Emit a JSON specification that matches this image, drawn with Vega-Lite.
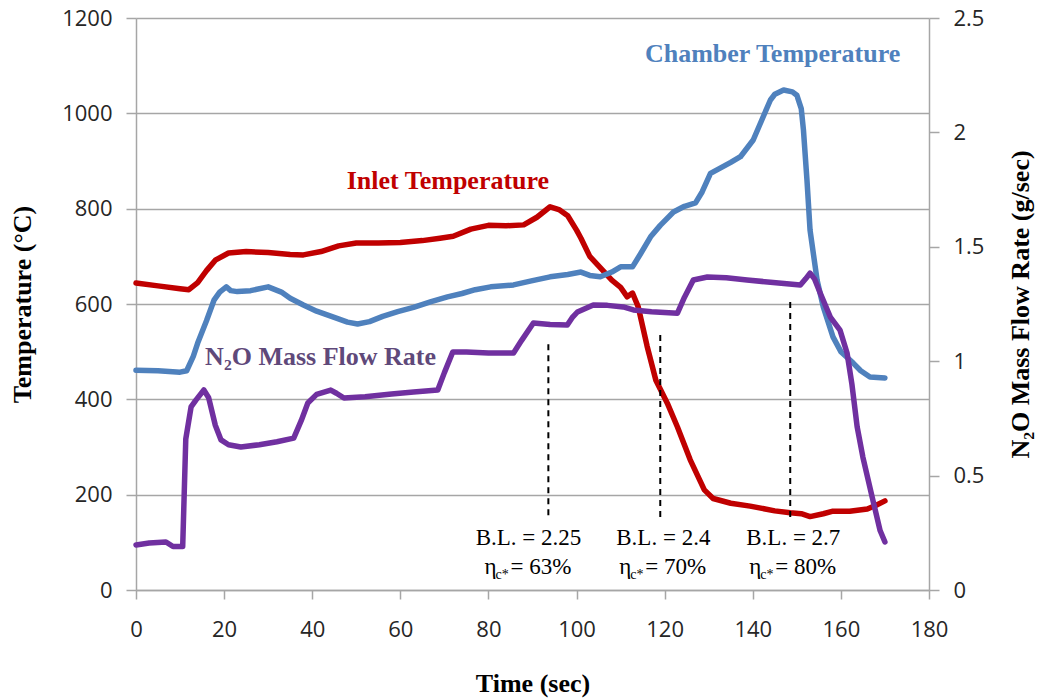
{
  "$schema": "https://vega.github.io/schema/vega-lite/v6.json",
  "width": 793,
  "height": 572,
  "autosize": {"type": "none"},
  "padding": {"left": 136, "top": 18, "right": 110, "bottom": 110},
  "background": "white",
  "config": {
    "view": {"stroke": null},
    "axis": {
      "labelFont": "Open Sans",
      "labelFontSize": 22,
      "labelColor": "#262626",
      "labelFlush": false,
      "domainColor": "#A6A6A6",
      "domainWidth": 1.5,
      "tickColor": "#A6A6A6",
      "tickWidth": 1.5,
      "tickSize": 9,
      "gridColor": "#A6A6A6",
      "gridWidth": 1.5,
      "titleFont": "Liberation Serif",
      "titleFontSize": 26,
      "titleFontWeight": "bold",
      "titleColor": "black"
    }
  },
  "datasets": {
    "temps": [
      {"s": "Inlet", "t": 0, "T": 644}, {"s": "Inlet", "t": 5, "T": 638}, {"s": "Inlet", "t": 10, "T": 632}, {"s": "Inlet", "t": 12, "T": 630},
      {"s": "Inlet", "t": 14, "T": 645}, {"s": "Inlet", "t": 16, "T": 670}, {"s": "Inlet", "t": 18, "T": 692}, {"s": "Inlet", "t": 21, "T": 707},
      {"s": "Inlet", "t": 25, "T": 710}, {"s": "Inlet", "t": 30, "T": 708}, {"s": "Inlet", "t": 35, "T": 704}, {"s": "Inlet", "t": 38, "T": 703},
      {"s": "Inlet", "t": 42, "T": 710}, {"s": "Inlet", "t": 46, "T": 722}, {"s": "Inlet", "t": 50, "T": 728}, {"s": "Inlet", "t": 55, "T": 728},
      {"s": "Inlet", "t": 60, "T": 729}, {"s": "Inlet", "t": 65, "T": 733}, {"s": "Inlet", "t": 69, "T": 738}, {"s": "Inlet", "t": 72, "T": 742},
      {"s": "Inlet", "t": 76, "T": 757}, {"s": "Inlet", "t": 80, "T": 765}, {"s": "Inlet", "t": 84, "T": 764}, {"s": "Inlet", "t": 88, "T": 766},
      {"s": "Inlet", "t": 91, "T": 782}, {"s": "Inlet", "t": 94, "T": 804}, {"s": "Inlet", "t": 96, "T": 798}, {"s": "Inlet", "t": 98, "T": 785},
      {"s": "Inlet", "t": 100, "T": 755}, {"s": "Inlet", "t": 101, "T": 738}, {"s": "Inlet", "t": 103, "T": 700}, {"s": "Inlet", "t": 105, "T": 680},
      {"s": "Inlet", "t": 108, "T": 650}, {"s": "Inlet", "t": 110, "T": 635}, {"s": "Inlet", "t": 111.5, "T": 615}, {"s": "Inlet", "t": 112.7, "T": 623},
      {"s": "Inlet", "t": 114, "T": 594}, {"s": "Inlet", "t": 116, "T": 512}, {"s": "Inlet", "t": 118, "T": 440}, {"s": "Inlet", "t": 120.6, "T": 392},
      {"s": "Inlet", "t": 122.9, "T": 342}, {"s": "Inlet", "t": 125.8, "T": 273}, {"s": "Inlet", "t": 129, "T": 210}, {"s": "Inlet", "t": 131, "T": 192},
      {"s": "Inlet", "t": 135, "T": 182}, {"s": "Inlet", "t": 139.4, "T": 176}, {"s": "Inlet", "t": 145, "T": 166}, {"s": "Inlet", "t": 148.5, "T": 162},
      {"s": "Inlet", "t": 151, "T": 160}, {"s": "Inlet", "t": 153, "T": 154}, {"s": "Inlet", "t": 156, "T": 160}, {"s": "Inlet", "t": 158, "T": 165},
      {"s": "Inlet", "t": 162, "T": 165}, {"s": "Inlet", "t": 166, "T": 170}, {"s": "Inlet", "t": 168, "T": 178}, {"s": "Inlet", "t": 170, "T": 187},
      {"s": "Chamber", "t": 0, "T": 461}, {"s": "Chamber", "t": 5, "T": 460}, {"s": "Chamber", "t": 10, "T": 457}, {"s": "Chamber", "t": 11.5, "T": 460},
      {"s": "Chamber", "t": 13, "T": 490}, {"s": "Chamber", "t": 14, "T": 518}, {"s": "Chamber", "t": 16, "T": 565}, {"s": "Chamber", "t": 17.7, "T": 608},
      {"s": "Chamber", "t": 19, "T": 625}, {"s": "Chamber", "t": 20.5, "T": 636}, {"s": "Chamber", "t": 21.5, "T": 628}, {"s": "Chamber", "t": 23, "T": 626},
      {"s": "Chamber", "t": 26, "T": 628}, {"s": "Chamber", "t": 30, "T": 636}, {"s": "Chamber", "t": 33, "T": 625}, {"s": "Chamber", "t": 35, "T": 612},
      {"s": "Chamber", "t": 38, "T": 598}, {"s": "Chamber", "t": 41, "T": 585}, {"s": "Chamber", "t": 45, "T": 572}, {"s": "Chamber", "t": 48, "T": 562},
      {"s": "Chamber", "t": 50.3, "T": 558}, {"s": "Chamber", "t": 53, "T": 563}, {"s": "Chamber", "t": 56, "T": 574}, {"s": "Chamber", "t": 59.4, "T": 584},
      {"s": "Chamber", "t": 63, "T": 593}, {"s": "Chamber", "t": 67, "T": 605}, {"s": "Chamber", "t": 70.7, "T": 615}, {"s": "Chamber", "t": 74, "T": 622},
      {"s": "Chamber", "t": 77, "T": 630}, {"s": "Chamber", "t": 80.5, "T": 636}, {"s": "Chamber", "t": 85.7, "T": 640}, {"s": "Chamber", "t": 90, "T": 649},
      {"s": "Chamber", "t": 94, "T": 657}, {"s": "Chamber", "t": 98, "T": 662}, {"s": "Chamber", "t": 101, "T": 667}, {"s": "Chamber", "t": 103, "T": 660},
      {"s": "Chamber", "t": 105.4, "T": 657}, {"s": "Chamber", "t": 108, "T": 667}, {"s": "Chamber", "t": 110, "T": 678}, {"s": "Chamber", "t": 112.7, "T": 678},
      {"s": "Chamber", "t": 114.5, "T": 705}, {"s": "Chamber", "t": 116.8, "T": 741}, {"s": "Chamber", "t": 119, "T": 765}, {"s": "Chamber", "t": 122, "T": 793},
      {"s": "Chamber", "t": 124.5, "T": 805}, {"s": "Chamber", "t": 127, "T": 812}, {"s": "Chamber", "t": 128.5, "T": 835}, {"s": "Chamber", "t": 130.4, "T": 874},
      {"s": "Chamber", "t": 132.6, "T": 885}, {"s": "Chamber", "t": 135, "T": 897}, {"s": "Chamber", "t": 137.2, "T": 909}, {"s": "Chamber", "t": 140.1, "T": 944},
      {"s": "Chamber", "t": 142, "T": 985}, {"s": "Chamber", "t": 144, "T": 1028}, {"s": "Chamber", "t": 145, "T": 1040}, {"s": "Chamber", "t": 147, "T": 1049},
      {"s": "Chamber", "t": 149, "T": 1045}, {"s": "Chamber", "t": 150, "T": 1038}, {"s": "Chamber", "t": 151, "T": 1010}, {"s": "Chamber", "t": 151.5, "T": 965},
      {"s": "Chamber", "t": 152.3, "T": 860}, {"s": "Chamber", "t": 153, "T": 755}, {"s": "Chamber", "t": 154.6, "T": 650}, {"s": "Chamber", "t": 156, "T": 594},
      {"s": "Chamber", "t": 158.2, "T": 531}, {"s": "Chamber", "t": 160, "T": 500}, {"s": "Chamber", "t": 162.8, "T": 476}, {"s": "Chamber", "t": 164.5, "T": 460},
      {"s": "Chamber", "t": 166.6, "T": 447}, {"s": "Chamber", "t": 170, "T": 445}
    ],
    "flow": [
      {"t": 0, "F": 0.197}, {"t": 3, "F": 0.205}, {"t": 6.8, "F": 0.21}, {"t": 8.4, "F": 0.19}, {"t": 10.6, "F": 0.19},
      {"t": 11.3, "F": 0.66}, {"t": 12.5, "F": 0.8}, {"t": 13.6, "F": 0.83}, {"t": 15.4, "F": 0.874}, {"t": 16.5, "F": 0.84},
      {"t": 18, "F": 0.72}, {"t": 19.3, "F": 0.656}, {"t": 21, "F": 0.635}, {"t": 23.8, "F": 0.625}, {"t": 28, "F": 0.635},
      {"t": 32, "F": 0.648}, {"t": 35.8, "F": 0.664}, {"t": 37.5, "F": 0.74}, {"t": 39, "F": 0.817}, {"t": 41, "F": 0.855},
      {"t": 44.2, "F": 0.874}, {"t": 45.5, "F": 0.86}, {"t": 47.2, "F": 0.839}, {"t": 52, "F": 0.845}, {"t": 58, "F": 0.857},
      {"t": 63, "F": 0.865}, {"t": 68.5, "F": 0.874}, {"t": 70, "F": 0.95}, {"t": 71.9, "F": 1.04}, {"t": 75, "F": 1.04},
      {"t": 80, "F": 1.036}, {"t": 85.7, "F": 1.036}, {"t": 87.5, "F": 1.09}, {"t": 90.2, "F": 1.167}, {"t": 94, "F": 1.16},
      {"t": 97.9, "F": 1.158}, {"t": 99, "F": 1.19}, {"t": 100.2, "F": 1.215}, {"t": 103.8, "F": 1.246}, {"t": 107, "F": 1.244},
      {"t": 110.6, "F": 1.237}, {"t": 112.9, "F": 1.224}, {"t": 117, "F": 1.216}, {"t": 122.9, "F": 1.21}, {"t": 124.5, "F": 1.28},
      {"t": 126.5, "F": 1.355}, {"t": 129.7, "F": 1.368}, {"t": 134, "F": 1.365}, {"t": 138.7, "F": 1.355}, {"t": 144, "F": 1.345},
      {"t": 150.8, "F": 1.333}, {"t": 152, "F": 1.36}, {"t": 153, "F": 1.385}, {"t": 154, "F": 1.36}, {"t": 155.3, "F": 1.298},
      {"t": 157.6, "F": 1.193}, {"t": 159.8, "F": 1.136}, {"t": 161.4, "F": 1.036}, {"t": 162.5, "F": 0.9}, {"t": 163.7, "F": 0.712},
      {"t": 165, "F": 0.58}, {"t": 167.3, "F": 0.39}, {"t": 168.9, "F": 0.26}, {"t": 170, "F": 0.21}
    ],
    "marks": [
      {"t": 93.6, "y1": 157, "y2": 521, "tc": 89.1, "bl": "B.L. = 2.25", "eff": "= 63%"},
      {"t": 119, "y1": 153, "y2": 545, "tc": 119.7, "bl": "B.L. = 2.4", "eff": "= 70%"},
      {"t": 148.5, "y1": 153, "y2": 604, "tc": 149.2, "bl": "B.L. = 2.7", "eff": "= 80%"}
    ],
    "labels": [
      {"t": 70.8, "y": 841, "text": "Inlet Temperature", "c": "Inlet"},
      {"t": 144.5, "y": 1108, "text": "Chamber Temperature", "c": "Chamber"},
      {"t": 41.9, "y": 472, "text": "N₂O Mass Flow Rate", "c": "Flow"}
    ]
  },
  "layer": [
    {
      "layer": [
        {
          "data": {"name": "temps"},
          "mark": {"type": "line", "strokeWidth": 5.5, "strokeCap": "round", "strokeJoin": "round"},
          "encoding": {
            "x": {"field": "t", "type": "quantitative", "scale": {"domain": [0, 180], "nice": false},
              "axis": {"title": "Time (sec)", "values": [0, 20, 40, 60, 80, 100, 120, 140, 160, 180], "grid": false, "labelPadding": 20, "titlePadding": 30, "tickSize": 9}},
            "y": {"field": "T", "type": "quantitative", "scale": {"domain": [0, 1200], "nice": false},
              "axis": {"title": "Temperature (°C)", "values": [0, 200, 400, 600, 800, 1000, 1200], "format": "d", "grid": true, "tickSize": 10, "labelPadding": 14, "titlePadding": 26}},
            "color": {"field": "s", "type": "nominal", "scale": {"domain": ["Inlet", "Chamber"], "range": ["#C00000", "#4F81BD"]}, "legend": null},
            "order": {"field": "t"}
          }
        },
        {
          "data": {"name": "marks"},
          "mark": {"type": "rule", "color": "black", "strokeWidth": 2, "strokeDash": [6, 5]},
          "encoding": {
            "x": {"field": "t", "type": "quantitative",
              "axis": {"title": "Time (sec)", "values": [0, 20, 40, 60, 80, 100, 120, 140, 160, 180], "grid": false, "labelPadding": 20, "titlePadding": 30, "tickSize": 9}},
            "y": {"field": "y1", "type": "quantitative",
              "axis": {"title": "Temperature (°C)", "values": [0, 200, 400, 600, 800, 1000, 1200], "format": "d", "grid": true, "tickSize": 10, "labelPadding": 14, "titlePadding": 26}},
            "y2": {"field": "y2"}
          }
        },
        {
          "data": {"name": "marks"},
          "mark": {"type": "text", "font": "Liberation Serif", "fontSize": 23, "align": "center", "baseline": "alphabetic", "color": "black"},
          "encoding": {
            "x": {"field": "tc", "type": "quantitative",
              "axis": {"title": "Time (sec)", "values": [0, 20, 40, 60, 80, 100, 120, 140, 160, 180], "grid": false, "labelPadding": 20, "titlePadding": 30, "tickSize": 9}},
            "y": {"datum": 94, "type": "quantitative",
              "axis": {"title": "Temperature (°C)", "values": [0, 200, 400, 600, 800, 1000, 1200], "format": "d", "grid": true, "tickSize": 10, "labelPadding": 14, "titlePadding": 26}},
            "text": {"field": "bl"}
          }
        },
        {
          "data": {"name": "marks"},
          "mark": {"type": "text", "font": "Liberation Serif", "fontSize": 23, "align": "left", "baseline": "alphabetic", "color": "black", "dx": -44, "text": "η"},
          "encoding": {
            "x": {"field": "tc", "type": "quantitative",
              "axis": {"title": "Time (sec)", "values": [0, 20, 40, 60, 80, 100, 120, 140, 160, 180], "grid": false, "labelPadding": 20, "titlePadding": 30, "tickSize": 9}},
            "y": {"datum": 34, "type": "quantitative",
              "axis": {"title": "Temperature (°C)", "values": [0, 200, 400, 600, 800, 1000, 1200], "format": "d", "grid": true, "tickSize": 10, "labelPadding": 14, "titlePadding": 26}}
          }
        },
        {
          "data": {"name": "marks"},
          "mark": {"type": "text", "font": "Liberation Serif", "fontSize": 14, "align": "left", "baseline": "alphabetic", "color": "black", "dx": -33, "dy": 5, "text": "c*"},
          "encoding": {
            "x": {"field": "tc", "type": "quantitative",
              "axis": {"title": "Time (sec)", "values": [0, 20, 40, 60, 80, 100, 120, 140, 160, 180], "grid": false, "labelPadding": 20, "titlePadding": 30, "tickSize": 9}},
            "y": {"datum": 34, "type": "quantitative",
              "axis": {"title": "Temperature (°C)", "values": [0, 200, 400, 600, 800, 1000, 1200], "format": "d", "grid": true, "tickSize": 10, "labelPadding": 14, "titlePadding": 26}}
          }
        },
        {
          "data": {"name": "marks"},
          "mark": {"type": "text", "font": "Liberation Serif", "fontSize": 23, "align": "left", "baseline": "alphabetic", "color": "black", "dx": -18},
          "encoding": {
            "x": {"field": "tc", "type": "quantitative",
              "axis": {"title": "Time (sec)", "values": [0, 20, 40, 60, 80, 100, 120, 140, 160, 180], "grid": false, "labelPadding": 20, "titlePadding": 30, "tickSize": 9}},
            "y": {"datum": 34, "type": "quantitative",
              "axis": {"title": "Temperature (°C)", "values": [0, 200, 400, 600, 800, 1000, 1200], "format": "d", "grid": true, "tickSize": 10, "labelPadding": 14, "titlePadding": 26}},
            "text": {"field": "eff"}
          }
        },
        {
          "data": {"name": "labels"},
          "mark": {"type": "text", "font": "Liberation Serif", "fontSize": 26, "fontWeight": "bold", "align": "center", "baseline": "alphabetic"},
          "encoding": {
            "x": {"field": "t", "type": "quantitative",
              "axis": {"title": "Time (sec)", "values": [0, 20, 40, 60, 80, 100, 120, 140, 160, 180], "grid": false, "labelPadding": 20, "titlePadding": 30, "tickSize": 9}},
            "y": {"field": "y", "type": "quantitative",
              "axis": {"title": "Temperature (°C)", "values": [0, 200, 400, 600, 800, 1000, 1200], "format": "d", "grid": true, "tickSize": 10, "labelPadding": 14, "titlePadding": 26}},
            "text": {"field": "text"},
            "color": {"field": "c", "type": "nominal", "scale": {"domain": ["Inlet", "Chamber", "Flow"], "range": ["#C00000", "#4F81BD", "#5F497A"]}, "legend": null}
          }
        }
      ],
      "resolve": {"scale": {"color": "independent"}}
    },
    {
      "data": {"name": "flow"},
      "mark": {"type": "line", "strokeWidth": 5.5, "color": "#7030A0", "strokeCap": "round", "strokeJoin": "round"},
      "encoding": {
        "x": {"field": "t", "type": "quantitative",
          "axis": {"title": "Time (sec)", "values": [0, 20, 40, 60, 80, 100, 120, 140, 160, 180], "grid": false, "labelPadding": 20, "titlePadding": 30, "tickSize": 9}},
        "y": {
          "field": "F", "type": "quantitative",
          "scale": {"domain": [0, 2.5], "nice": false},
          "axis": {"orient": "right", "title": "N₂O Mass Flow Rate (g/sec)", "values": [0, 0.5, 1, 1.5, 2, 2.5], "format": "~g", "grid": false, "tickSize": 10, "labelPadding": 14, "titlePadding": 50, "titleAngle": -90}
        }
      }
    }
  ],
  "resolve": {"scale": {"y": "independent"}}
}
